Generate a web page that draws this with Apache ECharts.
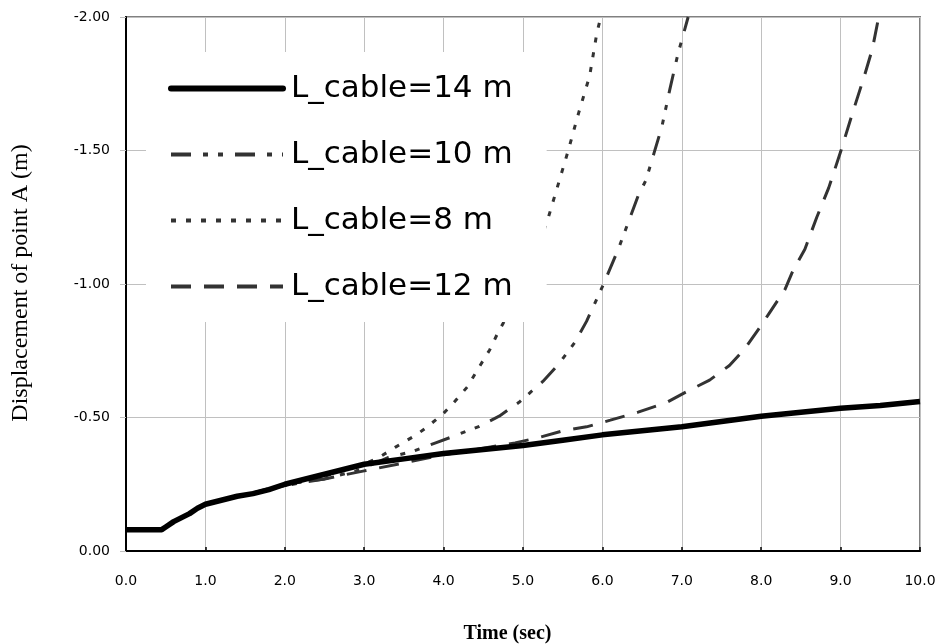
<!DOCTYPE html>
<html>
<head>
<meta charset="utf-8">
<script src="https://cdn.jsdelivr.net/npm/echarts@6/dist/echarts.min.js"></script>
<style>html,body{margin:0;padding:0;background:#fff;}#c{width:938px;height:644px;}</style>
</head>
<body>
<div id="c"></div>
<script>
// Data (time in sec, displacement of point A in m)
const seriesNames = ['L_cable=14 m', 'L_cable=10 m', 'L_cable=8 m', 'L_cable=12 m'];

const time14 = [0, 0.45, 0.5, 0.6, 0.7, 0.8, 0.9, 1.0, 1.2, 1.4, 1.6, 1.8, 2.0, 2.2, 2.4, 2.6, 2.8, 3.0, 3.5, 4.0, 4.5, 5.0, 5.5, 6.0, 6.5, 7.0, 7.5, 8.0, 8.5, 9.0, 9.5, 10.0];
const disp14 = [-0.08, -0.08, -0.09, -0.11, -0.125, -0.14, -0.16, -0.175, -0.19, -0.205, -0.215, -0.23, -0.25, -0.265, -0.28, -0.295, -0.31, -0.325, -0.345, -0.365, -0.38, -0.395, -0.415, -0.435, -0.45, -0.465, -0.485, -0.505, -0.52, -0.535, -0.545, -0.56];

const time10 = [0, 0.45, 0.5, 0.7, 0.9, 1.0, 1.5, 2.0, 2.5, 2.9, 3.3, 3.6, 3.9, 4.1, 4.45, 4.7, 4.95, 5.25, 5.45, 5.65, 5.8, 6.0, 6.2, 6.45, 6.55, 6.65, 6.75, 6.85, 6.95, 7.08];
const disp10 = [-0.08, -0.08, -0.09, -0.125, -0.16, -0.175, -0.21, -0.245, -0.27, -0.3, -0.35, -0.372, -0.405, -0.427, -0.467, -0.505, -0.557, -0.635, -0.70, -0.78, -0.86, -0.99, -1.13, -1.33, -1.39, -1.49, -1.59, -1.73, -1.86, -2.0];

const time8 = [0, 0.45, 0.5, 0.7, 0.9, 1.0, 1.5, 2.0, 2.5, 3.0, 3.2, 3.4, 3.65, 3.8, 4.0, 4.12, 4.3, 4.45, 4.58, 4.67, 4.75, 4.85, 5.0, 5.15, 5.3, 5.45, 5.57, 5.7, 5.84, 5.93, 5.98];
const disp8 = [-0.08, -0.08, -0.09, -0.125, -0.16, -0.175, -0.21, -0.245, -0.28, -0.325, -0.353, -0.39, -0.434, -0.466, -0.516, -0.553, -0.615, -0.69, -0.753, -0.809, -0.853, -0.91, -1.0, -1.11, -1.23, -1.38, -1.50, -1.64, -1.78, -1.94, -2.0];

const time12 = [0, 0.45, 0.5, 0.7, 0.9, 1.0, 1.5, 2.0, 2.5, 3.0, 3.5, 4.0, 4.5, 4.9, 5.2, 5.5, 5.8, 6.1, 6.45, 6.8, 7.05, 7.35, 7.6, 7.8, 8.0, 8.1, 8.3, 8.4, 8.55, 8.7, 8.85, 9.0, 9.15, 9.3, 9.4, 9.48];
const disp12 = [-0.08, -0.08, -0.09, -0.125, -0.16, -0.175, -0.21, -0.25, -0.27, -0.3, -0.33, -0.36, -0.385, -0.405, -0.425, -0.45, -0.465, -0.49, -0.52, -0.555, -0.595, -0.64, -0.695, -0.76, -0.845, -0.89, -0.98, -1.05, -1.13, -1.25, -1.36, -1.495, -1.64, -1.78, -1.88, -2.0];

const xTitle = 'Time (sec)';
const yTitle = 'Displacement of point A (m)';

function zip(t, v) { return t.map((x, i) => [x, v[i]]); }

const dashPatterns = {
  'L_cable=14 m': 'solid',
  'L_cable=10 m': [20, 12, 5, 10, 5, 12],
  'L_cable=8 m': [5, 10],
  'L_cable=12 m': [20, 13]
};

const hiddenSymbol = {color: 'rgba(0,0,0,0)', borderWidth: 0, opacity: 0};

const chart = echarts.init(document.getElementById('c'), null, {renderer: 'canvas'});
chart.setOption({
  animation: false,
  backgroundColor: '#ffffff',
  grid: {left: 126, right: 18, top: 17, bottom: 93, containLabel: false, outerBoundsMode: 'none',
         show: true, borderColor: '#808080', borderWidth: 2, backgroundColor: 'transparent'},
  legend: {
    orient: 'vertical',
    left: 146, top: 52,
    padding: [21, 34, 20, 22],
    backgroundColor: '#ffffff',
    itemWidth: 112, itemHeight: 30, itemGap: 35,
    selectedMode: false,
    itemStyle: hiddenSymbol,
    textStyle: {fontFamily: 'DejaVu Sans', fontSize: 31, color: '#000', padding: [0, 0, 0, 3]},
    data: [
      {name: seriesNames[0], itemStyle: hiddenSymbol, lineStyle: {width: 6, color: '#000', type: 'solid', cap: 'round'}},
      {name: seriesNames[1], itemStyle: hiddenSymbol, lineStyle: {width: 4, color: '#333', type: dashPatterns[seriesNames[1]]}},
      {name: seriesNames[2], itemStyle: hiddenSymbol, lineStyle: {width: 4, color: '#333', type: dashPatterns[seriesNames[2]]}},
      {name: seriesNames[3], itemStyle: hiddenSymbol, lineStyle: {width: 4, color: '#333', type: dashPatterns[seriesNames[3]]}}
    ]
  },
  xAxis: {
    type: 'value', min: 0, max: 10, interval: 1, position: 'bottom',
    name: xTitle, nameLocation: 'middle', nameGap: 73,
    nameTextStyle: {fontFamily: 'Liberation Serif', fontWeight: 'bold', fontSize: 20, color: '#000', padding: [0, 31, 0, 0]},
    axisLine: {onZero: false, lineStyle: {color: '#000', width: 2}},
    axisTick: {inside: true, length: 4, lineStyle: {color: '#000', width: 1.5}},
    axisLabel: {margin: 23, fontFamily: 'DejaVu Sans', fontSize: 14, color: '#000', formatter: v => v.toFixed(1)},
    splitLine: {show: true, lineStyle: {color: '#c0c0c0', width: 1}}
  },
  yAxis: {
    type: 'value', min: -2, max: 0, interval: 0.5, inverse: true,
    name: yTitle, nameLocation: 'middle', nameGap: 93, nameRotate: 90,
    nameTextStyle: {fontFamily: 'Liberation Serif', fontSize: 24, color: '#000', padding: [0, 0, 0, 2]},
    axisLine: {onZero: false, lineStyle: {color: '#000', width: 2}},
    axisTick: {inside: false, length: 6, lineStyle: {color: '#c0c0c0', width: 1}},
    axisLabel: {margin: 16, fontFamily: 'DejaVu Sans', fontSize: 14, color: '#000', formatter: v => v.toFixed(2)},
    splitLine: {show: true, lineStyle: {color: '#c0c0c0', width: 1}}
  },
  series: [
    {name: seriesNames[0], type: 'line', data: zip(time14, disp14), symbol: 'none', z: 5,
     lineStyle: {color: '#000', width: 5.5, type: 'solid'}, itemStyle: {color: '#000'}},
    {name: seriesNames[1], type: 'line', data: zip(time10, disp10), symbol: 'none',
     lineStyle: {color: '#333', width: 3, type: dashPatterns[seriesNames[1]]}, itemStyle: {color: '#333'}},
    {name: seriesNames[2], type: 'line', data: zip(time8, disp8), symbol: 'none',
     lineStyle: {color: '#333', width: 3, type: dashPatterns[seriesNames[2]]}, itemStyle: {color: '#333'}},
    {name: seriesNames[3], type: 'line', data: zip(time12, disp12), symbol: 'none',
     lineStyle: {color: '#333', width: 3, type: dashPatterns[seriesNames[3]]}, itemStyle: {color: '#333'}}
  ]
});
</script>
</body>
</html>
